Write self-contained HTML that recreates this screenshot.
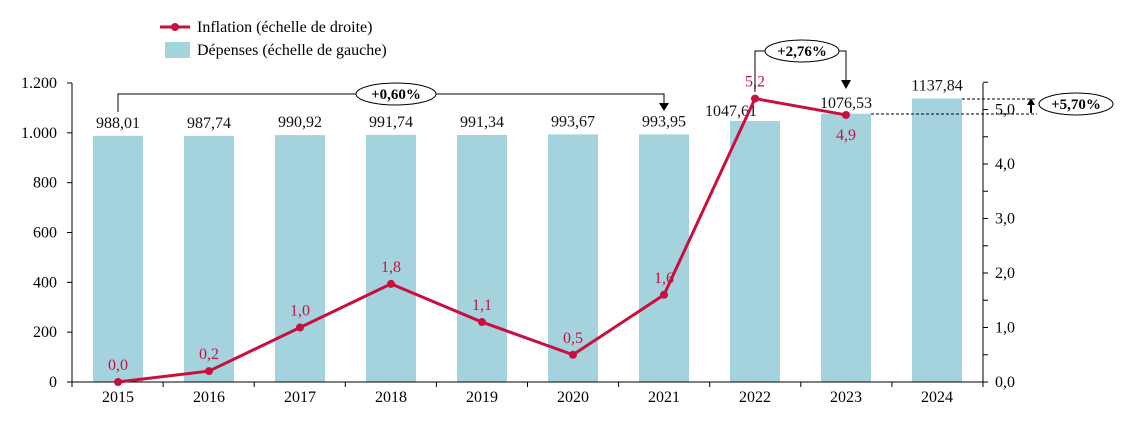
<!DOCTYPE html>
<html><head><meta charset="utf-8"><style>
body{margin:0;background:#fff}
svg{font-family:"Liberation Serif",serif;}
</style></head><body>
<svg id="c" width="1123" height="418"></svg>
<script>
const years=["2015","2016","2017","2018","2019","2020","2021","2022","2023","2024"];
const spend=[988.01,987.74,990.92,991.74,991.34,993.67,993.95,1047.61,1076.53,1137.84];
const spendLabels=["988,01","987,74","990,92","991,74","991,34","993,67","993,95","1047,61","1076,53","1137,84"];
const infl=[0.0,0.2,1.0,1.8,1.1,0.5,1.6,5.2,4.9];
const inflLabels=["0,0","0,2","1,0","1,8","1,1","0,5","1,6","5,2","4,9"];
const leftTicks=[0,200,400,600,800,1000,1200];
const leftTickLabels=["0","200","400","600","800","1.000","1.200"];
const rightTicks=[0,1,2,3,4,5];
const rightTickLabels=["0,0","1,0","2,0","3,0","4,0","5,0"];
const NS="http://www.w3.org/2000/svg",svg=document.getElementById('c');
function el(t,a,txt){const e=document.createElementNS(NS,t);for(const k in a)e.setAttribute(k,a[k]);if(txt!=null)e.textContent=txt;svg.appendChild(e);return e;}
const FS=16;
const x0=72,x1=983,yB=382;
const xs=i=>118+i*91;
const yL=v=>yB-v*(299/1200);
const yR=v=>yB-v*54.5;
spend.forEach((v,i)=>{
 const r=el('rect',{x:xs(i)-25,y:yL(v),width:50,height:yB-yL(v),fill:'#a4d3de'});
 
 
 let lx=xs(i),ly=yL(v)-8;
 if(i==7){lx=xs(i)-24;ly=yL(v)-5;}
 if(i==8){ly=yL(v)-6;}
 const t=el('text',{x:lx,y:ly,'text-anchor':'middle','font-size':FS,fill:'#111'},spendLabels[i]);
 
 
});
el('line',{x1:x0,y1:83,x2:x0,y2:yB,stroke:'#000'});
el('line',{x1:x1,y1:83,x2:x1,y2:yB,stroke:'#000'});
el('line',{x1:x0,y1:yB,x2:x1,y2:yB,stroke:'#000'});
leftTicks.forEach((v,i)=>{
 el('line',{x1:x0-5,y1:yL(v),x2:x0,y2:yL(v),stroke:'#000'});
 const t=el('text',{x:x0-15,y:yL(v)+5,'text-anchor':'end','font-size':FS},leftTickLabels[i]);
 
 
});
for(let v=0;v<=5.5;v+=0.5)el('line',{x1:x1,y1:yR(v),x2:x1+5,y2:yR(v),stroke:'#000'});
rightTicks.forEach((v,i)=>{
 const t=el('text',{x:x1+12,y:yR(v)+5,'font-size':FS},rightTickLabels[i]);
 
 
});
for(let i=0;i<=years.length;i++)el('line',{x1:x0+i*91.1,y1:yB,x2:x0+i*91.1,y2:yB+5,stroke:'#000'});
years.forEach((y,i)=>{
 const t=el('text',{x:xs(i),y:yB+20,'text-anchor':'middle','font-size':FS},y);
 
 
});
const p=el('polyline',{points:infl.map((v,i)=>xs(i)+','+yR(v)).join(' '),fill:'none',stroke:'#c8103e','stroke-width':3});


infl.forEach((v,i)=>{
 const c=el('circle',{cx:xs(i),cy:yR(v),r:4,fill:'#c8103e'});
 
 
 const ly=i==8?yR(v)+25:yR(v)-12;
 const t=el('text',{x:xs(i),y:ly,'text-anchor':'middle','font-size':FS,fill:'#c8103e'},inflLabels[i]);
 
 
});
el('polyline',{points:`118,112 118,94 664,94 664,104`,fill:'none',stroke:'#000'});
el('polygon',{points:'659,103 669,103 664,111',fill:'#000'});
el('ellipse',{cx:396,cy:94,rx:40,ry:11,fill:'#fff',stroke:'#000'});
el('text',{x:396,y:99,'text-anchor':'middle','font-size':15,'font-weight':'bold'},'+0,60%');
el('polyline',{points:`755,92 755,51 846,51 846,81`,fill:'none',stroke:'#000'});
el('polygon',{points:'841,80 851,80 846,89',fill:'#000'});
el('ellipse',{cx:802,cy:51,rx:37,ry:11,fill:'#fff',stroke:'#000'});
el('text',{x:802,y:56,'text-anchor':'middle','font-size':15,'font-weight':'bold'},'+2,76%');
el('line',{x1:871,y1:114,x2:1037,y2:114,stroke:'#000','stroke-dasharray':'3,2'});
el('line',{x1:962,y1:99,x2:1037,y2:99,stroke:'#000','stroke-dasharray':'3,2'});
el('line',{x1:1031,y1:113,x2:1031,y2:104,stroke:'#000','stroke-width':2});
el('polygon',{points:'1027,105 1035,105 1031,98',fill:'#000'});
el('ellipse',{cx:1076,cy:104,rx:37,ry:11,fill:'#fff',stroke:'#000'});
el('text',{x:1076,y:109,'text-anchor':'middle','font-size':15,'font-weight':'bold'},'+5,70%');
el('line',{x1:160,y1:27,x2:190,y2:27,stroke:'#c8103e','stroke-width':3});
el('circle',{cx:175,cy:27,r:4,fill:'#c8103e'});
el('text',{x:197,y:32,'font-size':FS},'Inflation (échelle de droite)');
el('rect',{x:165,y:42,width:25,height:16,fill:'#a4d3de'});
el('text',{x:197,y:55,'font-size':FS},'Dépenses (échelle de gauche)');
</script>
</body></html>
